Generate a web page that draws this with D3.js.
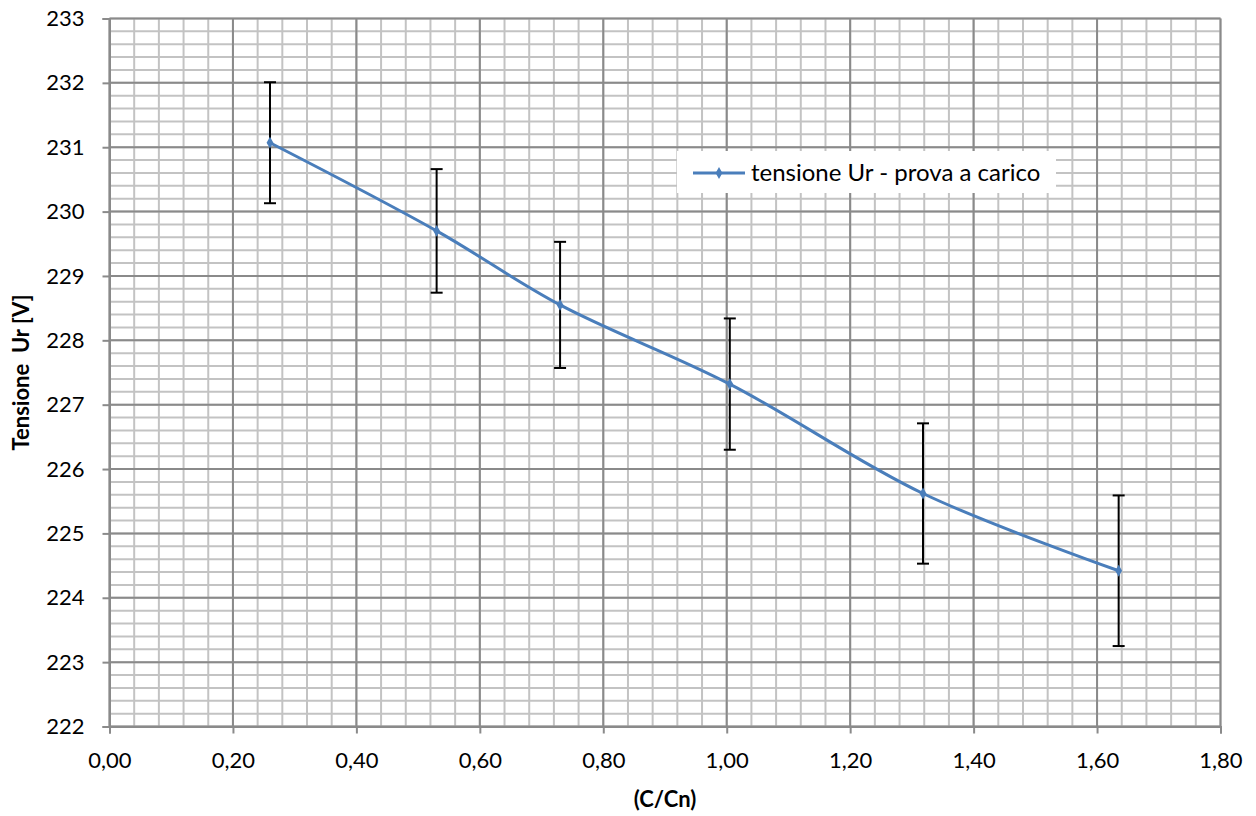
<!DOCTYPE html>
<html>
<head>
<meta charset="utf-8">
<script src="https://cdn.jsdelivr.net/npm/d3@7/dist/d3.min.js"></script>
<style>
  html, body { margin: 0; padding: 0; background: #fff; }
  svg { display: block; }
  text { font-family: Lato, "Open Sans", sans-serif; fill: #000; }
</style>
</head>
<body>
<svg id="chart" width="1256" height="816"></svg>
<script>
// ---- data ----
const ratio   = [0.26, 0.53, 0.73, 1.005, 1.318, 1.635];   // C/Cn
const voltage = [231.07, 229.70, 228.55, 227.32, 225.62, 224.42]; // Ur [V]
const errPlus = [0.94, 0.96, 0.98, 1.02, 1.09, 1.17];
const errMinus = [0.94, 0.96, 0.98, 1.02, 1.09, 1.17];
const xTicks = [0, 0.2, 0.4, 0.6, 0.8, 1.0, 1.2, 1.4, 1.6, 1.8];
const yTicks = [222, 223, 224, 225, 226, 227, 228, 229, 230, 231, 232, 233];
const seriesName = "tensione Ur - prova a carico";
const xTitle = "(C/Cn)";
const yTitle = "Tensione  Ur [V]";

const svg = d3.select("#chart");
const L = 109.5, R = 1220.5, T = 18.5, B = 726.5;
const x = d3.scaleLinear().domain([0, 1.8]).range([L, R]);
const y = d3.scaleLinear().domain([222, 233]).range([B, T]);

const fmt = v => v.toFixed(2).replace(".", ",");

// minor grid
const xMinor = d3.range(0, 46).map(i => i * 0.04);
const yMinor = d3.range(0, 56).map(i => 222 + i * 0.2);
const g = svg.append("g");
g.selectAll(".vm").data(xMinor).join("line")
  .attr("x1", d => x(d)).attr("x2", d => x(d)).attr("y1", T).attr("y2", B)
  .attr("stroke", "#c3c3c3").attr("stroke-width", 2);
g.selectAll(".hm").data(yMinor).join("line")
  .attr("y1", d => y(d)).attr("y2", d => y(d)).attr("x1", L).attr("x2", R)
  .attr("stroke", "#c3c3c3").attr("stroke-width", 2);
// major grid
g.selectAll(".vM").data(xTicks).join("line")
  .attr("x1", d => x(d)).attr("x2", d => x(d)).attr("y1", T).attr("y2", B)
  .attr("stroke", "#8a8a8a").attr("stroke-width", 2);
g.selectAll(".hM").data(yTicks).join("line")
  .attr("y1", d => y(d)).attr("y2", d => y(d)).attr("x1", L).attr("x2", R)
  .attr("stroke", "#8a8a8a").attr("stroke-width", 2);

// axes
const xAxis = svg.append("g").attr("transform", `translate(0,${B})`)
  .call(d3.axisBottom(x).tickValues(xTicks).tickFormat(fmt).tickSize(7).tickPadding(19));
const yAxis = svg.append("g").attr("transform", `translate(${L},0)`)
  .call(d3.axisLeft(y).tickValues(yTicks).tickFormat(d3.format("d")).tickSize(7).tickPadding(18));
[xAxis, yAxis].forEach(a => {
  a.select(".domain").attr("stroke", "#8a8a8a").attr("stroke-width", 2);
  a.selectAll(".tick line").attr("stroke", "#8a8a8a").attr("stroke-width", 2);
  a.selectAll(".tick text").style("font-size", "22px").style("font-family", "Lato, sans-serif").attr("fill", "#000");
});

// error bars
const eb = svg.append("g");
ratio.forEach((r, i) => {
  const cx = x(r);
  const yt = y(voltage[i] + errPlus[i]);
  const yb = y(voltage[i] - errMinus[i]);
  eb.append("line").attr("x1", cx).attr("x2", cx).attr("y1", yt).attr("y2", yb)
    .attr("stroke", "#000").attr("stroke-width", 2);
  eb.append("line").attr("x1", cx - 6).attr("x2", cx + 6).attr("y1", yt).attr("y2", yt)
    .attr("stroke", "#000").attr("stroke-width", 2);
  eb.append("line").attr("x1", cx - 6).attr("x2", cx + 6).attr("y1", yb).attr("y2", yb)
    .attr("stroke", "#000").attr("stroke-width", 2);
});

// series line
const pts = ratio.map((r, i) => [r, voltage[i]]);
const line = d3.line().x(d => x(d[0])).y(d => y(d[1])).curve(d3.curveCatmullRom.alpha(0.5));
svg.append("path").datum(pts).attr("d", line)
  .attr("fill", "none").attr("stroke", "#4a7ebb").attr("stroke-width", 3);
const diamond = d3.symbol().type(d3.symbolDiamond).size(40);
svg.selectAll(".mk").data(pts).join("path")
  .attr("d", diamond)
  .attr("transform", d => `translate(${x(d[0])},${y(d[1])})`)
  .attr("fill", "#4a7ebb");

// legend
const lg = svg.append("g");
lg.append("rect").attr("x", 677).attr("y", 151).attr("width", 379).attr("height", 42).attr("fill", "#fff");
lg.append("line").attr("x1", 693).attr("x2", 745).attr("y1", 173).attr("y2", 173)
  .attr("stroke", "#4a7ebb").attr("stroke-width", 3);
lg.append("path").attr("d", diamond).attr("transform", "translate(719,173)").attr("fill", "#4a7ebb");
lg.append("text").attr("x", 751).attr("y", 181).style("font-size", "24px").text(seriesName);

// titles
svg.append("text").attr("x", (L + R) / 2).attr("y", 807).attr("text-anchor", "middle")
  .style("font-size", "22px").style("font-weight", "bold").text(xTitle);
svg.append("text").attr("transform", `translate(29,${(T + B) / 2}) rotate(-90)`)
  .attr("text-anchor", "middle").style("font-size", "22px").style("font-weight", "bold")
  .style("white-space", "pre").text(yTitle);
</script>
</body>
</html>
